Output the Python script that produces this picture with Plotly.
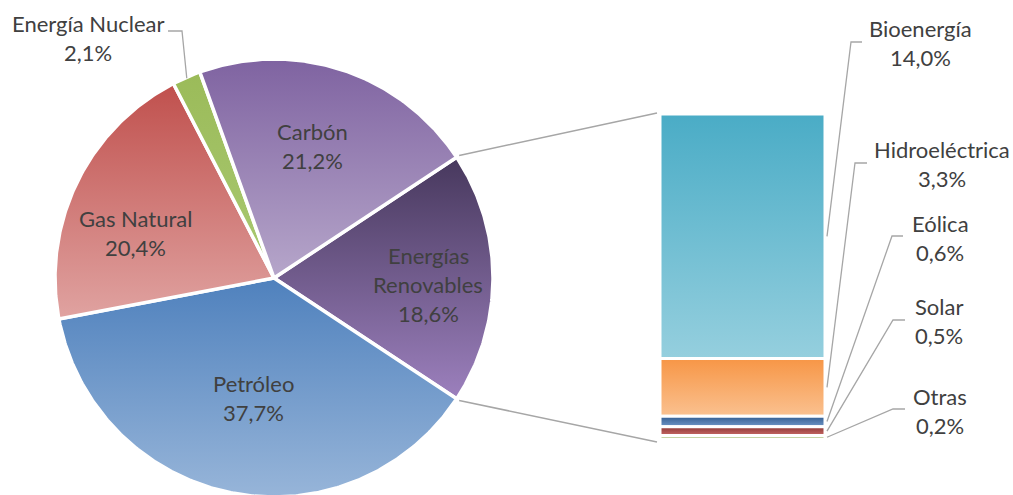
import numpy as np
import plotly.graph_objects as go

# Primary energy mix (pie)
pie_labels = ["Energías Renovables", "Petróleo", "Gas Natural", "Energía Nuclear", "Carbón"]
pie_values = [18.6, 37.7, 20.4, 2.1, 21.2]

# Breakdown of the renewables slice (stacked bar)
bar_labels = ["Bioenergía", "Hidroeléctrica", "Eólica", "Solar", "Otras"]
bar_values = [14.0, 3.3, 0.6, 0.5, 0.2]

# ---- styling ---------------------------------------------------------------
W, H = 1013, 495
CX, CY, R = 274, 278, 219
BAR_X0, BAR_X1, BAR_TOP, BAR_BOTTOM = 660, 825, 114, 439
TEXT = "#404040"
LEADER = "#a6a6a6"
FONT = dict(family="Lato", size=22, color=TEXT)
LINE_GAP = 29

# (top colour, bottom colour) of each vertical gradient
pie_grad = {
    "Energías Renovables": ("#47385d", "#9c80bd"),
    "Petróleo": ("#4f81bd", "#97b5d9"),
    "Gas Natural": ("#c0504d", "#e0a3a1"),
    "Energía Nuclear": ("#9bbb59", "#a9c972"),
    "Carbón": ("#7f63a1", "#b6a6ca"),
}
bar_grad = {
    "Bioenergía": ("#4aacc6", "#95cfde"),
    "Hidroeléctrica": ("#f79646", "#fac190"),
    "Eólica": ("#335c8f", "#6f96c8"),
    "Solar": ("#8e3734", "#c76a67"),
    "Otras": ("#76923c", "#9bbb59"),
}

# label centres (x, first line y); label leader paths end in a short stub
pie_label_pos = {
    "Carbón": (312, 131),
    "Gas Natural": (135, 218),
    "Petróleo": (253, 383),
    "Energías Renovables": (428, 255),
    "Energía Nuclear": (88, 23),
}
bar_label_pos = {
    "Bioenergía": (920, 28),
    "Hidroeléctrica": (942, 149),
    "Eólica": (940, 223),
    "Solar": (939, 306),
    "Otras": (940, 396),
}
bar_stub = {
    "Bioenergía": ((851, 42), (862, 42)),
    "Hidroeléctrica": ((855, 163), (867, 163)),
    "Eólica": ((892, 236), (903, 236)),
    "Solar": ((893, 320), (905, 320)),
    "Otras": ((893, 409), (905, 409)),
}


def fmt(v):
    return f"{v:.1f}".replace(".", ",") + "%"


def polar(theta_deg, r):
    t = np.radians(theta_deg)
    return CX + r * np.sin(t), CY - r * np.cos(t)


def gradient(top, bottom):
    # the y axis is reversed, so the low end of the scale sits at the bottom
    return dict(type="vertical", colorscale=[[0, bottom], [1, top]])


fig = go.Figure()

# ---- pie slices (clockwise, first slice centred at 3 o'clock) ---------------
total = sum(pie_values)
start = 90 - pie_values[0] / total * 180
angles = {}
a = start
for name, v in zip(pie_labels, pie_values):
    span = v / total * 360
    th = np.linspace(a, a + span, max(int(span * 2), 4))
    xs, ys = polar(th, R)
    xs = np.concatenate([[CX], xs, [CX]])
    ys = np.concatenate([[CY], ys, [CY]])
    fig.add_trace(go.Scatter(
        x=xs, y=ys, mode="lines", fill="toself",
        line=dict(color="white", width=3.5),
        fillgradient=gradient(*pie_grad[name]),
        hoverinfo="skip", showlegend=False,
    ))
    angles[name] = (a, a + span)
    a += span

# ---- stacked bar --------------------------------------------------------------
scale = (BAR_BOTTOM - BAR_TOP) / sum(bar_values)
cum = 0.0
bar_mid = {}
for name, v in zip(bar_labels, bar_values):
    y0 = BAR_TOP + cum * scale
    y1 = BAR_TOP + (cum + v) * scale
    fig.add_trace(go.Scatter(
        x=[BAR_X0, BAR_X1, BAR_X1, BAR_X0, BAR_X0],
        y=[y0, y0, y1, y1, y0],
        mode="lines", fill="toself",
        line=dict(color="white", width=3),
        fillgradient=gradient(*bar_grad[name]),
        hoverinfo="skip", showlegend=False,
    ))
    bar_mid[name] = (y0 + y1) / 2
    cum += v

# ---- connector lines from the renewables slice to the bar -------------------
ra0, ra1 = angles[pie_labels[0]]
p0 = polar(ra0, R + 3)
p1 = polar(ra1, R + 3)
fig.add_trace(go.Scatter(x=[p0[0], BAR_X0 - 3], y=[p0[1], BAR_TOP - 1], mode="lines",
                         line=dict(color=LEADER, width=1.5), hoverinfo="skip", showlegend=False))
fig.add_trace(go.Scatter(x=[p1[0], BAR_X0 - 3], y=[p1[1], BAR_BOTTOM + 3], mode="lines",
                         line=dict(color=LEADER, width=1.5), hoverinfo="skip", showlegend=False))

# ---- leader lines for bar labels -------------------------------------------------
for name in bar_labels:
    (ex, ey), (sx, sy) = bar_stub[name]
    fig.add_trace(go.Scatter(x=[BAR_X1 + 2, ex, sx], y=[bar_mid[name], ey, sy], mode="lines",
                             line=dict(color=LEADER, width=1.3), hoverinfo="skip", showlegend=False))

# leader for the small nuclear slice
na0, na1 = angles["Energía Nuclear"]
nx, ny = polar((na0 + na1) / 2, R - 1)
fig.add_trace(go.Scatter(x=[nx, 182, 168], y=[ny, 31, 31], mode="lines",
                         line=dict(color=LEADER, width=1.3), hoverinfo="skip", showlegend=False))

# ---- labels -------------------------------------------------------------------------
def add_label(lines, x, y0):
    for i, t in enumerate(lines):
        fig.add_annotation(x=x, y=y0 + i * LINE_GAP, text=t, showarrow=False,
                           xref="x", yref="y", xanchor="center", yanchor="middle",
                           font=FONT)

for name, v in zip(pie_labels, pie_values):
    x, y = pie_label_pos[name]
    parts = name.split(" ") if name == "Energías Renovables" else [name]
    add_label(parts + [fmt(v)], x, y)

for name, v in zip(bar_labels, bar_values):
    x, y = bar_label_pos[name]
    add_label([name, fmt(v)], x, y)

fig.update_layout(
    width=W, height=H,
    margin=dict(l=0, r=0, t=0, b=0),
    paper_bgcolor="white", plot_bgcolor="white",
    xaxis=dict(range=[0, W], visible=False, fixedrange=True),
    yaxis=dict(range=[H, 0], visible=False, fixedrange=True),
    showlegend=False,
)

fig.write_html("out.html")
